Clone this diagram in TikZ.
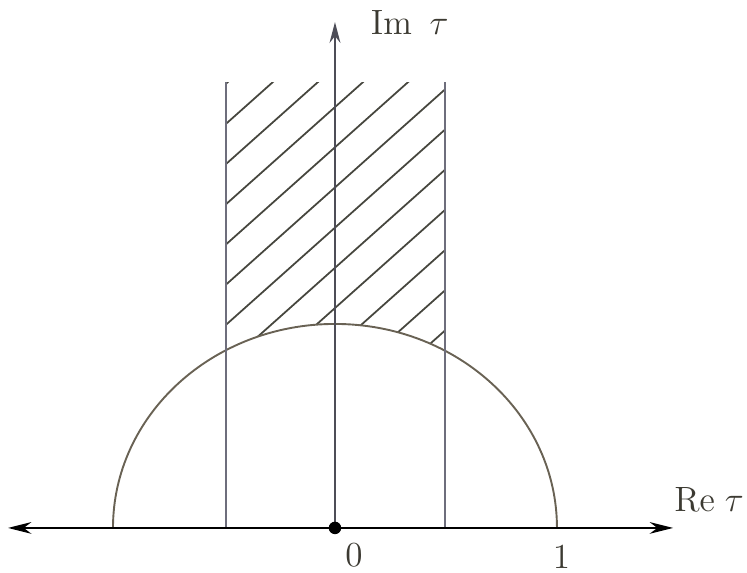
\documentclass[tikz,border=0pt]{standalone}
\usetikzlibrary{arrows.meta}
\definecolor{wallgray}{RGB}{110,110,124}
\definecolor{arcbrown}{RGB}{105,98,84}
\definecolor{hatchgray}{RGB}{70,70,62}
\definecolor{labelgray}{RGB}{60,58,50}
\begin{document}
\begin{tikzpicture}[x=2.664cm, y=2.448cm, line width=0.6pt,
    wall/.style={draw=wallgray, line width=0.8pt},
    hatch/.style={draw=hatchgray, line width=0.6pt},
    axislabel/.style={inner sep=0pt, text=labelgray, font=\large}]
  % bounding box
  \useasboundingbox (-1.509,-0.216) rectangle (1.856,2.588);
  % points on the axes
  \coordinate (O) at (0,0);
  \coordinate (reL) at (-1.473,0);
  \coordinate (reR) at (1.523,0);
  \coordinate (imT) at (0,2.48);
  \coordinate (lB) at (-0.49,0);
  \coordinate (lT) at (-0.49,2.186);
  \coordinate (rB) at (0.495,0);
  \coordinate (rT) at (0.495,2.186);
  % hatching of the strip above the arc
  \begin{scope}
    \clip (lT) -- (-0.49,0.8717) arc[start angle=119.34, end angle=60.33, radius=1] -- (rT) -- cycle;
    \foreach \k [evaluate=\k as \c using 0.487+0.197*\k] in {0,...,11}
      \draw[hatch] (-0.6,\c-0.582) -- (0.6,\c+0.582);
  \end{scope}
  % unit circle
  \draw[arcbrown, line width=0.65pt] (1,0) arc[start angle=0, end angle=180, radius=1];
  % strip walls
  \draw[wall] (lB) -- (lT);
  \draw[wall] (rB) -- (rT);
  % imaginary axis
  \draw[draw=wallgray!70!black, line width=0.8pt, -{Stealth[length=0.25cm, width=0.13cm]}] (O) -- (imT);
  % real axis
  \draw[line width=0.9pt, {Stealth[length=0.28cm, width=0.14cm]}-{Stealth[length=0.28cm, width=0.14cm]}] (reL) -- (reR);
  \fill (O) circle[radius=0.075cm];
  % labels
  \node[axislabel, anchor=west] (relabel) at (1.525,0.137) {$\mathrm{Re}\;\tau$};
  \node[axislabel, anchor=west] (imlabel) at (0.158,2.48) {$\mathrm{Im}\enspace\tau$};
  \node[axislabel] (zero) at (0.086,-0.132) {$0$};
  \node[axislabel] (one) at (1.02,-0.142) {$1$};
\end{tikzpicture}
\end{document}
